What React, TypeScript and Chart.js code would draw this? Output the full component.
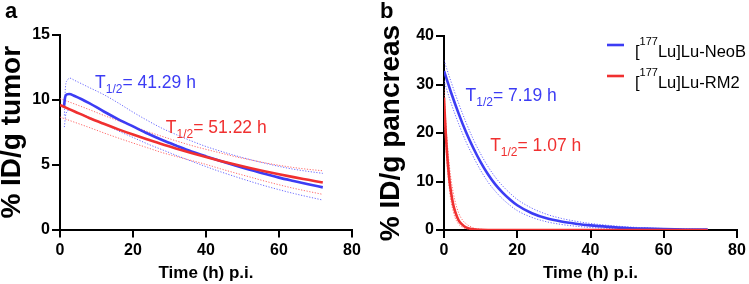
import React, { useEffect, useRef } from 'react';
import { Chart, registerables } from 'chart.js';

Chart.register(...registerables);

const FONT = '"Liberation Sans", Arial, Helvetica, sans-serif';
const BLUE = '#3c3cf4';
const RED = '#f03030';
const BLUE_BAND = 'rgba(80,80,255,0.85)';
const RED_BAND = 'rgba(255,80,80,0.85)';

// ---------- Panel a : tumor ----------
const aBlueTimes = [1.1, 1.4, 1.9, 2.5, 4, 8, 12, 16, 20, 24, 28, 32, 36, 40, 44, 48, 52, 56, 60, 64, 68, 72];
const aBlueFit = [9.5, 10.2, 10.42, 10.45, 10.3, 9.75, 9.1, 8.5, 7.95, 7.4, 6.9, 6.45, 6.02, 5.64, 5.28, 4.93, 4.6, 4.3, 4.0, 3.74, 3.49, 3.25];
const aBlueUpperTimes = [1.2, 1.5, 2.0, 2.6, 4, 8, 12, 16, 20, 24, 28, 32, 36, 40, 44, 48, 52, 56, 60, 64, 68, 72];
const aBlueUpper = [8.8, 11.0, 11.5, 11.68, 11.5, 10.95, 10.4, 9.75, 9.05, 8.4, 7.8, 7.3, 6.83, 6.4, 6.04, 5.7, 5.4, 5.12, 4.87, 4.65, 4.48, 4.33];
const aBlueLowerTimes = [1.2, 1.6, 2.5, 4, 8, 12, 16, 20, 24, 28, 32, 36, 40, 44, 48, 52, 56, 60, 64, 68, 72];
const aBlueLower = [7.9, 8.9, 9.2, 9.1, 8.65, 8.15, 7.6, 7.1, 6.6, 6.15, 5.7, 5.27, 4.85, 4.45, 4.08, 3.72, 3.38, 3.07, 2.78, 2.52, 2.27];

const aRedTimes = [0, 4, 8, 12, 16, 20, 24, 28, 32, 36, 40, 44, 48, 52, 56, 60, 64, 68, 72];
const aRedFit = [9.6, 9.1, 8.6, 8.15, 7.72, 7.32, 6.94, 6.57, 6.23, 5.9, 5.59, 5.29, 5.01, 4.75, 4.5, 4.26, 4.04, 3.83, 3.62];
const aRedUpper = [10.1, 9.68, 9.25, 8.8, 8.38, 7.97, 7.55, 7.18, 6.82, 6.48, 6.18, 5.9, 5.62, 5.38, 5.15, 4.95, 4.78, 4.64, 4.53];
const aRedLower = [8.67, 8.27, 7.87, 7.45, 7.05, 6.67, 6.3, 5.93, 5.62, 5.32, 5.02, 4.68, 4.36, 4.05, 3.74, 3.45, 3.18, 2.94, 2.71];

// ---------- Panel b : pancreas ----------
const bBlueTimes = [0, 2, 4, 6, 8, 10, 12, 14, 16, 18, 20, 24, 28, 32, 36, 40, 45, 50, 55, 60, 66, 72];
const bBlueFit = [32.8, 28.2, 24.0, 20.2, 16.9, 14.0, 11.5, 9.4, 7.7, 6.3, 5.1, 3.45, 2.4, 1.75, 1.3, 0.95, 0.65, 0.42, 0.28, 0.18, 0.11, 0.07];
const bBlueUpper = [35, 30.4, 26.1, 22.2, 18.7, 15.7, 13.1, 10.9, 9.1, 7.6, 6.3, 4.5, 3.25, 2.4, 1.8, 1.35, 0.95, 0.65, 0.45, 0.3, 0.2, 0.12];
const bBlueLower = [30.8, 26.0, 21.9, 18.2, 15.1, 12.3, 9.9, 8.0, 6.4, 5.1, 4.0, 2.6, 1.7, 1.15, 0.78, 0.52, 0.32, 0.2, 0.12, 0.07, 0.04, 0.02];

const bRedTimes = [0, 0.25, 0.5, 0.75, 1, 1.5, 2, 2.5, 3, 4, 5, 6, 8, 10, 15, 72];
const bRedFit = [27.3, 23.2, 19.7, 16.7, 14.2, 10.2, 7.4, 5.3, 3.9, 2.0, 1.1, 0.55, 0.15, 0.05, 0.01, 0];
const bRedUpper = [29, 25.5, 22.2, 19.4, 17.0, 13.0, 10.0, 7.8, 6.0, 3.5, 2.1, 1.3, 0.45, 0.15, 0.02, 0];
const bRedLower = [25.5, 21.1, 17.5, 14.5, 12.0, 8.2, 5.6, 3.9, 2.6, 1.2, 0.6, 0.28, 0.06, 0.02, 0, 0];

// ---------- Texts ----------
const xTitle = 'Time (h) p.i.';
const aYTitle = '% ID/g tumor';
const bYTitle = '% ID/g pancreas';
const legendNames = [
  { pre: '[', sup: '177', post: 'Lu]Lu-NeoB' },
  { pre: '[', sup: '177', post: 'Lu]Lu-RM2' },
];
// half-life labels anchored at data coordinates (time, value)
const aHalfLives = [
  { t: 9.6, v: 10.95, text: '41.29 h', color: BLUE },
  { t: 29.0, v: 7.45, text: '51.22 h', color: RED },
];
const bHalfLives = [
  { t: 5.9, v: 26.7, text: '7.19 h', color: BLUE },
  { t: 12.6, v: 16.3, text: '1.07 h', color: RED },
];

const pts = (xs: number[], ys: number[]) => xs.map((x, i) => ({ x, y: ys[i] }));

function fitSet(xs: number[], ys: number[], color: string, order: number) {
  return {
    data: pts(xs, ys),
    borderColor: color,
    borderWidth: 2.6,
    pointRadius: 0,
    fill: false,
    cubicInterpolationMode: 'monotone' as const,
    order,
  };
}
function bandSet(xs: number[], ys: number[], color: string, order: number) {
  return {
    data: pts(xs, ys),
    borderColor: color,
    borderWidth: 1,
    borderDash: [1.2, 1.6],
    pointRadius: 0,
    fill: false,
    cubicInterpolationMode: 'monotone' as const,
    order,
  };
}

function drawHalfLife(ctx: CanvasRenderingContext2D, x: number, y: number, value: string, color: string) {
  const main = 17.5;
  const sub = 12;
  ctx.save();
  ctx.fillStyle = color;
  ctx.textBaseline = 'alphabetic';
  ctx.textAlign = 'left';
  let cx = x;
  ctx.font = `normal ${main}px ${FONT}`;
  ctx.fillText('T', cx, y);
  cx += ctx.measureText('T').width;
  ctx.font = `normal ${sub}px ${FONT}`;
  ctx.fillText('1/2', cx, y + 5);
  cx += ctx.measureText('1/2').width;
  ctx.font = `normal ${main}px ${FONT}`;
  ctx.fillText('= ' + value, cx, y);
  ctx.restore();
}

function annotationPlugin(letter: string, halfLives: typeof aHalfLives, legend: boolean) {
  return {
    id: 'annot-' + letter,
    afterDraw(chart: any) {
      const ctx: CanvasRenderingContext2D = chart.ctx;
      const xs = chart.scales.x;
      const ys = chart.scales.y;
      ctx.save();
      ctx.fillStyle = '#000';
      ctx.font = `bold 22px ${FONT}`;
      ctx.textBaseline = 'alphabetic';
      ctx.textAlign = 'left';
      ctx.fillText(letter, letter === 'a' ? 5 : 5, 17.5);
      ctx.restore();
      halfLives.forEach((h) => {
        drawHalfLife(ctx, xs.getPixelForValue(h.t), ys.getPixelForValue(h.v), h.text, h.color);
      });
      if (legend) {
        const colors = [BLUE, RED];
        legendNames.forEach((n, i) => {
          const ly = 45 + i * 31;
          ctx.save();
          ctx.strokeStyle = colors[i];
          ctx.lineWidth = 2.6;
          ctx.beginPath();
          ctx.moveTo(232, ly);
          ctx.lineTo(249, ly);
          ctx.stroke();
          ctx.fillStyle = '#000';
          ctx.textBaseline = 'alphabetic';
          const base = ly + 11.5;
          let cx = 260;
          ctx.font = `normal 16.5px ${FONT}`;
          ctx.fillText(n.pre, cx, base);
          cx += ctx.measureText(n.pre).width;
          ctx.font = `normal 11px ${FONT}`;
          ctx.fillText(n.sup, cx, base - 11.5);
          cx += ctx.measureText(n.sup).width;
          ctx.font = `normal 16.5px ${FONT}`;
          ctx.fillText(n.post, cx, base);
          ctx.restore();
        });
      }
    },
  };
}

function buildOptions(p: {
  yMax: number; yStep: number; yTitle: string; yWidth: number;
  padLeft: number; padRight: number; padTop: number; xHeight: number;
}) {
  const tickFont = { family: FONT, size: 16, weight: 'bold' as const };
  return {
    responsive: false,
    animation: false as const,
    devicePixelRatio: 1,
    layout: { padding: { left: p.padLeft, right: p.padRight, top: p.padTop, bottom: 0 } },
    plugins: { legend: { display: false }, tooltip: { enabled: false } },
    elements: { point: { radius: 0 } },
    scales: {
      x: {
        type: 'linear' as const,
        min: 0,
        max: 80,
        ticks: { stepSize: 20, font: tickFont, color: '#000', padding: 3, maxRotation: 0 },
        grid: { drawOnChartArea: false, drawTicks: true, tickLength: 8, color: '#000', lineWidth: 2 },
        border: { display: true, color: '#000', width: 2 },
        title: {
          display: true, text: xTitle, color: '#000',
          font: { family: FONT, size: 17, weight: 'bold' as const, lineHeight: 1.2 },
          padding: { top: 0, bottom: 0 },
        },
        afterFit: (s: any) => { s.height = p.xHeight; },
      },
      y: {
        type: 'linear' as const,
        min: 0,
        max: p.yMax,
        ticks: { stepSize: p.yStep, font: tickFont, color: '#000', padding: 2 },
        grid: { drawOnChartArea: false, drawTicks: true, tickLength: 8, color: '#000', lineWidth: 2 },
        border: { display: true, color: '#000', width: 2 },
        title: {
          display: true, text: p.yTitle, color: '#000',
          font: { family: FONT, size: 28, weight: 'bold' as const, lineHeight: 0.9 },
          padding: { top: 0, bottom: 0 },
        },
        afterFit: (s: any) => { s.width = p.yWidth; },
      },
    },
  };
}

export default function App() {
  const refA = useRef<HTMLCanvasElement>(null);
  const refB = useRef<HTMLCanvasElement>(null);

  useEffect(() => {
    const chartA = new Chart(refA.current as HTMLCanvasElement, {
      type: 'line',
      data: {
        datasets: [
          fitSet(aRedTimes, aRedFit, RED, 0),
          fitSet(aBlueTimes, aBlueFit, BLUE, 1),
          bandSet(aRedTimes, aRedUpper, RED_BAND, 2),
          bandSet(aRedTimes, aRedLower, RED_BAND, 2),
          bandSet(aBlueUpperTimes, aBlueUpper, BLUE_BAND, 3),
          bandSet(aBlueLowerTimes, aBlueLower, BLUE_BAND, 3),
        ] as any,
      },
      options: buildOptions({
        yMax: 15, yStep: 5, yTitle: aYTitle, yWidth: 60,
        padLeft: 0, padRight: 23, padTop: 35, xHeight: 54.5,
      }) as any,
      plugins: [annotationPlugin('a', aHalfLives, false)],
    });
    const chartB = new Chart(refB.current as HTMLCanvasElement, {
      type: 'line',
      data: {
        datasets: [
          fitSet(bRedTimes, bRedFit, RED, 0),
          fitSet(bBlueTimes, bBlueFit, BLUE, 1),
          bandSet(bRedTimes, bRedUpper, RED_BAND, 2),
          bandSet(bRedTimes, bRedLower, RED_BAND, 2),
          bandSet(bBlueTimes, bBlueUpper, BLUE_BAND, 3),
          bandSet(bBlueTimes, bBlueLower, BLUE_BAND, 3),
        ] as any,
      },
      options: buildOptions({
        yMax: 40, yStep: 10, yTitle: bYTitle, yWidth: 65,
        padLeft: 4, padRight: 12, padTop: 36, xHeight: 54,
      }) as any,
      plugins: [annotationPlugin('b', bHalfLives, true)],
    });
    return () => {
      chartA.destroy();
      chartB.destroy();
    };
  }, []);

  return (
    <div style={{ position: 'fixed', left: 0, top: 0, width: 749, height: 284, background: '#fff' }}>
      <canvas ref={refA} width={375} height={284}
        style={{ position: 'absolute', left: 0, top: 0, width: 375, height: 284 }} />
      <canvas ref={refB} width={374} height={284}
        style={{ position: 'absolute', left: 375, top: 0, width: 374, height: 284 }} />
    </div>
  );
}
